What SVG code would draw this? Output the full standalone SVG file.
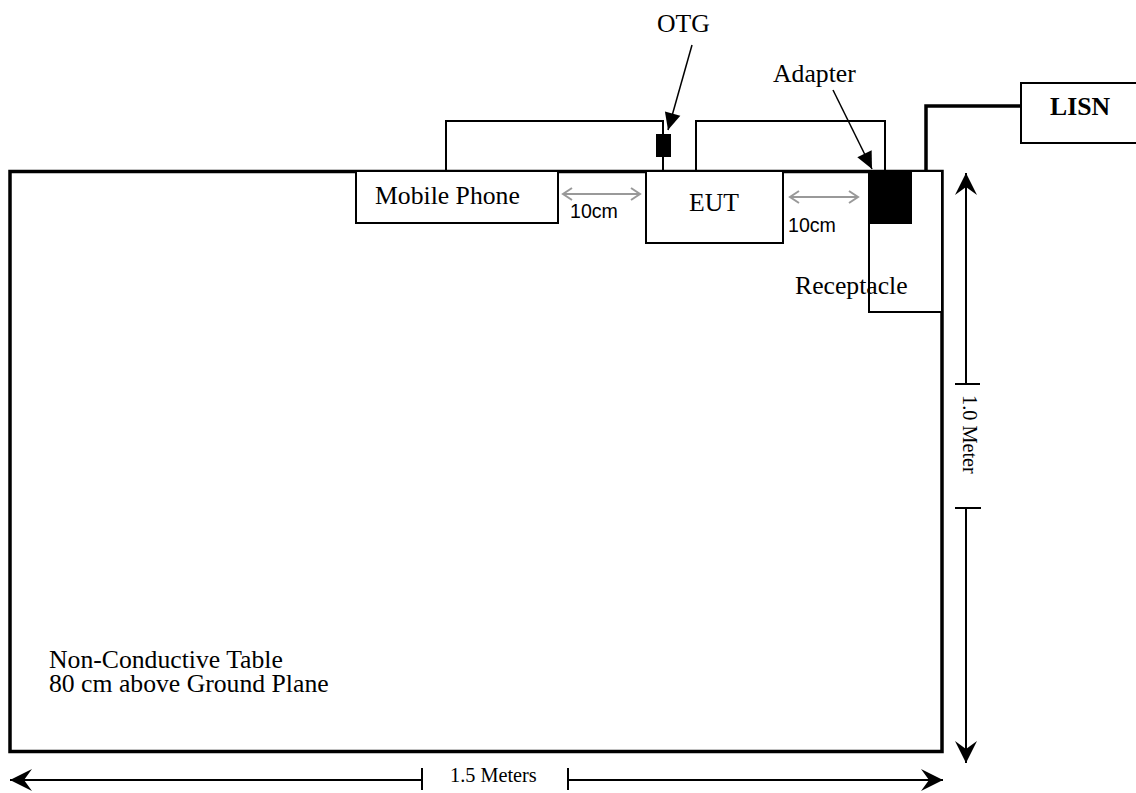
<svg xmlns="http://www.w3.org/2000/svg" width="1136" height="793" viewBox="0 0 1136 793">
<style>
.t{font-family:"Liberation Serif","Times New Roman",serif;font-size:25.7px;fill:#000}
.a{font-family:"Liberation Sans",Arial,sans-serif;font-size:19.6px;fill:#000}
.s{font-family:"Liberation Serif","Times New Roman",serif;font-size:20.3px;fill:#000}
.box{fill:#fff;stroke:#000;stroke-width:2}
.thin{fill:none;stroke:#000;stroke-width:2}
.thick{fill:none;stroke:#000;stroke-width:3.5}
.gray{fill:none;stroke:#999;stroke-width:2}
.dim{fill:none;stroke:#000;stroke-width:2}
</style>
<defs>
<marker id="dh" viewBox="-24 -13 26 26" markerWidth="26" markerHeight="26" refX="0" refY="0" orient="auto-start-reverse" markerUnits="userSpaceOnUse">
<path d="M0,0 L-22,-11 L-14,0 L-22,11 Z" fill="#000"/>
</marker>
<marker id="gh" viewBox="-12 -8 14 16" markerWidth="14" markerHeight="16" refX="0" refY="0" orient="auto-start-reverse" markerUnits="userSpaceOnUse">
<path d="M-9,-6 L0,0 L-9,6" fill="none" stroke="#999" stroke-width="2"/>
</marker>
<marker id="bh" viewBox="-18 -9 20 18" markerWidth="20" markerHeight="18" refX="0" refY="0" orient="auto" markerUnits="userSpaceOnUse">
<path d="M0,0 L-17,-8 L-17,8 Z" fill="#000"/>
</marker>
</defs>

<g id="table">
<rect x="10" y="171.5" width="932" height="580" fill="#fff" stroke="#000" stroke-width="3.5"/>
<text class="t" x="49" y="668">Non-Conductive Table<tspan x="49" dy="24">80 cm above Ground Plane</tspan></text>
</g>

<g id="connectors">
<polyline class="thin" points="446,171 446,121 663,121 663,171"/>
<polyline class="thin" points="696,171 696,121 885,121 885,171"/>
<polyline class="thick" points="926,171 926,106 1021,106"/>
<line class="gray" x1="563" y1="194" x2="640" y2="194" marker-start="url(#gh)" marker-end="url(#gh)"/>
<text class="a" x="570" y="218">10cm</text>
<line class="gray" x1="790" y1="197" x2="858" y2="197" marker-start="url(#gh)" marker-end="url(#gh)"/>
<text class="a" x="788" y="232">10cm</text>
<line x1="692" y1="45" x2="668" y2="130" stroke="#000" stroke-width="1.5" marker-end="url(#bh)"/>
<line x1="833" y1="90" x2="872" y2="169" stroke="#000" stroke-width="1.5" marker-end="url(#bh)"/>
</g>

<g id="mobile-phone">
<rect class="box" x="356" y="171" width="202" height="52"/>
<text class="t" x="375" y="204">Mobile Phone</text>
</g>

<g id="eut">
<rect class="box" x="646" y="171" width="137" height="72"/>
<text class="t" x="689" y="211">EUT</text>
</g>

<g id="otg">
<rect x="656" y="134" width="15" height="23" fill="#000"/>
<text class="t" x="657" y="32">OTG</text>
</g>

<g id="receptacle">
<rect class="box" x="869" y="171" width="73" height="141"/>
<text class="t" x="795" y="294">Receptacle</text>
</g>

<g id="adapter">
<rect x="869" y="171" width="43" height="53" fill="#000"/>
<text class="t" x="773" y="82">Adapter</text>
</g>

<g id="lisn">
<rect class="box" x="1021" y="83" width="125" height="60"/>
<text class="t" x="1050" y="115" font-weight="bold">LISN</text>
</g>

<g id="dimensions">
<line class="dim" x1="966" y1="173" x2="966" y2="384" marker-start="url(#dh)"/>
<line class="dim" x1="955" y1="384" x2="980" y2="384"/>
<text class="s" transform="translate(963,395) rotate(90)">1.0 Meter</text>
<line class="dim" x1="955" y1="508" x2="981" y2="508"/>
<line class="dim" x1="966" y1="508" x2="966" y2="763" marker-end="url(#dh)"/>
<line class="dim" x1="10" y1="780" x2="422" y2="780" marker-start="url(#dh)"/>
<line class="dim" x1="422" y1="768" x2="422" y2="790"/>
<text class="s" x="450" y="782">1.5 Meters</text>
<line class="dim" x1="568" y1="768" x2="568" y2="790"/>
<line class="dim" x1="568" y1="780" x2="943" y2="780" marker-end="url(#dh)"/>
</g>
</svg>
